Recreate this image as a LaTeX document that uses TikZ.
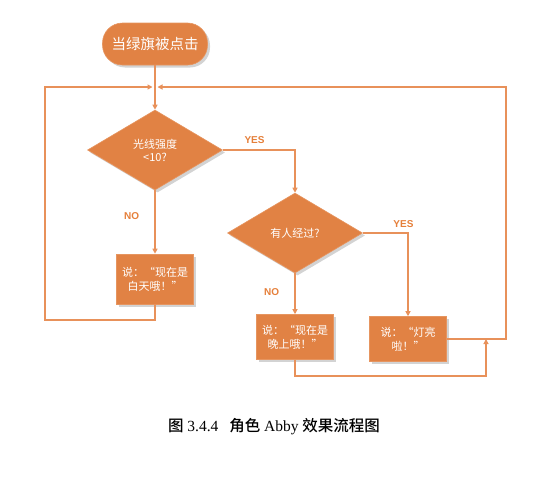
\documentclass[tikz,border=0pt]{standalone}
\usepackage{fontspec}
\setmainfont{Liberation Serif}
\newfontfamily\cjk{Noto Sans CJK SC}
\newfontfamily\cjkb{Noto Sans CJK SC Medium}
\newfontfamily\lab{Liberation Sans}
\usetikzlibrary{shapes.geometric,shadows,arrows.meta}
\definecolor{ofill}{HTML}{E18244}
\definecolor{oline}{HTML}{E8915A}
\definecolor{otext}{HTML}{E57F3A}
\tikzset{
  shp/.style={fill=ofill, draw=ofill!85!white, line width=0.6pt, text=white, font=\cjk\fontsize{11}{14}\selectfont, align=center,
    drop shadow={opacity=0.35, shadow xshift=2.5pt, shadow yshift=-2.5pt}},
  startbox/.style={shp, rectangle, rounded corners=20pt, minimum width=105pt, minimum height=42pt, inner sep=0pt, font=\cjk\fontsize{14.5}{17}\selectfont},
  decide/.style={shp, diamond, minimum width=135pt, minimum height=80pt, inner sep=0pt, aspect=1.7},
  saybox/.style={shp, rectangle, minimum width=77pt, inner sep=0pt},
  conn/.style={draw=oline, line width=1.1pt},
  arr/.style={conn, -{Triangle[length=5pt,width=5pt]}},
  lbl/.style={text=otext, font=\lab\bfseries\fontsize{10}{11}\selectfont},
}
\begin{document}
\begin{tikzpicture}[x=1pt,y=-1pt]
\useasboundingbox (0,0) rectangle (554,490);
\node[startbox] (s) at (155,44) {当绿旗被点击};
\node[decide] (d1) at (155,150) {光线强度\\[-1pt]<10?};
\node[decide] (d2) at (295,233) {有人经过?};
\node[saybox, minimum height=50pt] (b1) at (155,279) {说：“现在是\\白天哦！”};
\node[saybox, minimum height=45pt] (b2) at (295,337) {说：“现在是\\晚上哦！”};
\node[saybox, minimum height=45pt] (b3) at (408,339) {说：“灯亮\\啦！”};
\coordinate (m) at (155,87);
\coordinate (lt) at (45,87);
\coordinate (lb) at (45,320);
\coordinate (rt) at (506,87);
\coordinate (rb) at (506,339);
\coordinate (jb) at (486,376);
\coordinate (j) at (486,339);
\coordinate (bb) at (295,376);
% main flow
\draw[arr] (s.south) -- (d1.north);
\draw[arr] (d1.east) -| (d2.north) node[pos=0.22, above=3pt, lbl] {YES};
\draw[arr] (d1.south) -- (b1.north) node[pos=0.4, left=12pt, lbl] {NO};
\draw[arr] (d2.east) -| (b3.north) node[pos=0.45, above=2pt, lbl] {YES};
\draw[arr] (d2.south) -- (b2.north) node[pos=0.45, left=12pt, lbl] {NO};
% loops
\draw[arr, shorten >=2.5pt] (b1.south) |- (lb) -- (lt) -- (m);
\draw[arr, shorten >=2.5pt] (b3.east) -- (rb) -- (rt) -- (m);
\draw[arr] (b2.south) -- (bb) -- (jb) -- (j);
% caption
\node[font=\fontsize{15.5}{18}\selectfont] (cap) at (274,427) {{\cjkb 图} 3.4.4\hspace{0.7em}{\cjkb 角色} Abby {\cjkb 效果流程图}};
\end{tikzpicture}
\end{document}
